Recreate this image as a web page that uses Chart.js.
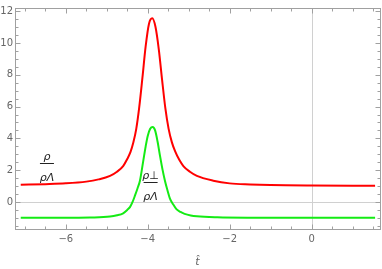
<!DOCTYPE html>
<html lang="en">

<head>
  <meta charset="UTF-8">
  <title>rho over rho lambda</title>
  <script src="https://cdn.jsdelivr.net/npm/chart.js"></script>
  <style>
    html,
    body {
      margin: 0;
      padding: 0;
      background: #fff;
    }

    #wrap {
      position: relative;
      width: 382px;
      height: 269px;
    }
  </style>
</head>

<body>
  <div id="wrap">
    <canvas id="chart"></canvas>
  </div>
  <script>
    // values
    const redT = [-7.1, -6.5, -6.0, -5.5, -5.2, -4.92, -4.75, -4.6, -4.5, -4.42, -4.35, -4.28, -4.21, -4.13, -4.05, -3.97, -3.89, -3.81, -3.73, -3.65, -3.57, -3.49, -3.41, -3.33, -3.23, -3.13, -2.97, -2.8, -2.4, -2.0, -1.5, -1.0, 0, 1.0, 1.55];
    const redV = [1.08, 1.12, 1.17, 1.28, 1.42, 1.64, 1.9, 2.26, 2.7, 3.15, 3.75, 4.6, 5.9, 7.8, 9.8, 11.2, 11.55, 11.0, 9.6, 7.7, 5.9, 4.6, 3.75, 3.18, 2.65, 2.26, 1.9, 1.64, 1.34, 1.17, 1.1, 1.06, 1.03, 1.02, 1.02];

    const greenT = [-7.1, -6.0, -5.41, -4.92, -4.75, -4.6, -4.5, -4.43, -4.37, -4.31, -4.25, -4.19, -4.11, -4.05, -4.0, -3.94, -3.88, -3.82, -3.76, -3.7, -3.64, -3.58, -3.52, -3.46, -3.38, -3.3, -3.2, -3.1, -2.95, -2.8, -2.3, -1.5, 0, 1.55];
    const greenV = [-1.0, -1.0, -0.98, -0.92, -0.84, -0.71, -0.5, -0.31, 0.0, 0.41, 0.85, 1.34, 2.57, 3.5, 4.15, 4.6, 4.72, 4.5, 3.8, 2.9, 2.05, 1.34, 0.75, 0.23, -0.15, -0.45, -0.63, -0.75, -0.85, -0.9, -0.96, -0.99, -1.0, -1.0];

    const xLabels = [-6, -4, -2, 0];
    const yLabels = [0, 2, 4, 6, 8, 10, 12];

    const toPts = (ts, vs) => ts.map((t, i) => ({ x: t, y: vs[i] }));

    // frame, inward ticks, zero lines and the two fraction labels
    const framePlugin = {
      id: 'frame',
      beforeDatasetsDraw(chart) {
        const { ctx, chartArea: a, scales: { x, y } } = chart;
        ctx.save();
        ctx.strokeStyle = '#d0d0d0';
        ctx.lineWidth = 1;
        ctx.beginPath();
        const x0 = Math.round(x.getPixelForValue(0)) + 0.5;
        const y0 = Math.round(y.getPixelForValue(0)) + 0.5;
        ctx.moveTo(x0, a.top);
        ctx.lineTo(x0, a.bottom);
        ctx.moveTo(a.left, y0);
        ctx.lineTo(a.right, y0);
        ctx.stroke();
        ctx.restore();
      },
      afterDraw(chart) {
        const { ctx, chartArea: a, scales: { x, y } } = chart;
        ctx.save();
        ctx.strokeStyle = '#a0a0a0';
        ctx.lineWidth = 1;
        const L = Math.round(a.left) + 0.5, R = Math.round(a.right) + 0.5;
        const T = Math.round(a.top) + 0.5, B = Math.round(a.bottom) + 0.5;
        ctx.strokeRect(L, T, R - L, B - T);
        ctx.beginPath();
        for (let v = -7; v <= 1.5; v += 0.5) {
          const px = Math.round(x.getPixelForValue(v)) + 0.5;
          const len = v % 2 === 0 ? 5 : 3;
          ctx.moveTo(px, B); ctx.lineTo(px, B - len);
          ctx.moveTo(px, T); ctx.lineTo(px, T + len);
        }
        for (let v = -1.5; v <= 12; v += 0.5) {
          const py = Math.round(y.getPixelForValue(v)) + 0.5;
          const len = v % 2 === 0 ? 5 : 3;
          ctx.moveTo(L, py); ctx.lineTo(L + len, py);
          ctx.moveTo(R, py); ctx.lineTo(R - len, py);
        }
        ctx.stroke();

        // fraction labels
        const frac = (t, v, top) => {
          const cx = x.getPixelForValue(t);
          const cy = Math.round(y.getPixelForValue(v)) + 0.5;
          ctx.fillStyle = '#222';
          ctx.font = 'italic 11px "DejaVu Sans"';
          ctx.textAlign = 'center';
          ctx.textBaseline = 'alphabetic';
          ctx.fillText(top, cx, cy - 4);
          ctx.fillText('ρΛ', cx, cy + 17);
          ctx.strokeStyle = '#222';
          ctx.beginPath();
          ctx.moveTo(cx - 7, cy);
          ctx.lineTo(cx + 7, cy);
          ctx.stroke();
        };
        frac(-6.46, 2.44, 'ρ');
        frac(-3.93, 1.23, 'ρ⊥');
        ctx.restore();
      }
    };

    new Chart(document.getElementById('chart'), {
      type: 'line',
      data: {
        datasets: [
          {
            data: toPts(redT, redV),
            borderColor: 'rgb(255, 0, 0)',
            borderWidth: 2,
            pointRadius: 0,
            cubicInterpolationMode: 'monotone',
          },
          {
            data: toPts(greenT, greenV),
            borderColor: 'rgb(20, 235, 20)',
            borderWidth: 2,
            pointRadius: 0,
            cubicInterpolationMode: 'monotone',
          },
        ]
      },
      options: {
        responsive: true,
        maintainAspectRatio: false,
        animation: false,
        layout: { padding: { top: 3, right: 2, left: 0, bottom: 0 } },
        plugins: {
          legend: { display: false },
          tooltip: { enabled: false },
        },
        scales: {
          x: {
            type: 'linear',
            min: -7.24,
            max: 1.67,
            afterBuildTicks: (s) => { s.ticks = xLabels.map(v => ({ value: v })); },
            afterFit: (s) => { s.height = 40; },
            grid: { display: false, drawTicks: false },
            border: { display: false },
            ticks: {
              color: '#666',
              font: { family: 'DejaVu Sans', size: 10 },
              padding: 4,
              maxRotation: 0,
              callback: (v) => v < 0 ? '\u2212' + Math.abs(v) : String(v),
            },
            title: {
              display: true,
              text: 't\u0302',
              color: '#666',
              font: { family: 'DejaVu Sans', size: 11, style: 'italic' },
              padding: { top: 8, bottom: 0 },
            },
          },
          y: {
            min: -1.7,
            max: 12.2,
            afterBuildTicks: (s) => { s.ticks = yLabels.map(v => ({ value: v })); },
            afterFit: (s) => { s.width = 15; },
            grid: { display: false, drawTicks: false },
            border: { display: false },
            ticks: {
              color: '#666',
              font: { family: 'DejaVu Sans', size: 10 },
              padding: 2,
            },
          },
        }
      },
      plugins: [framePlugin]
    });
  </script>
</body>

</html>
